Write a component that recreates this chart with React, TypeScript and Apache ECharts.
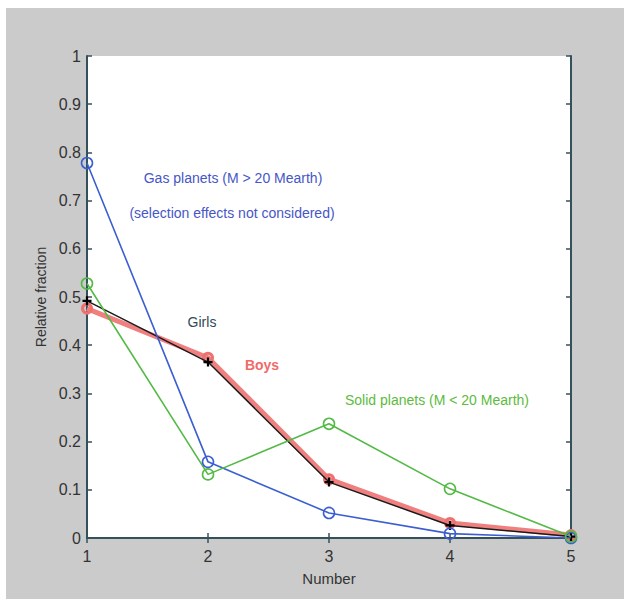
import React, { useEffect, useRef } from "react";
import * as echarts from "echarts";

const numbers = [1, 2, 3, 4, 5];
const gasPlanets = [0.778, 0.158, 0.052, 0.009, 0.0];
const solidPlanets = [0.528, 0.132, 0.237, 0.102, 0.003];
const boys = [0.476, 0.374, 0.122, 0.031, 0.006];
const girls = [0.492, 0.365, 0.116, 0.026, 0.003];

const FONT = "'Liberation Sans Narrow', 'Liberation Sans', Arial, sans-serif";
const AXIS = "#34505a";

function pairs(v: number[]) {
  return numbers.map((n, i) => [n, v[i]]);
}

export default function App() {
  const ref = useRef<HTMLDivElement>(null);
  useEffect(() => {
    if (!ref.current) return;
    const chart = echarts.init(ref.current, undefined, { renderer: "svg" });
    const axisLine = { show: true, lineStyle: { color: AXIS, width: 2 } };
    const tick = { show: true, inside: true, length: 5, lineStyle: { color: AXIS, width: 1.5 } };
    chart.setOption({
      animation: false,
      backgroundColor: "#cbcbcb",
      grid: { left: 81, right: 53, top: 48, bottom: 61, show: true, backgroundColor: "#ffffff", borderWidth: 0 },
      xAxis: [
        {
          type: "value", min: 1, max: 5, interval: 1, position: "bottom",
          name: "Number", nameLocation: "middle", nameGap: 33,
          nameTextStyle: { fontFamily: FONT, fontSize: 15, color: "#333" },
          axisLine, axisTick: tick, splitLine: { show: false },
          axisLabel: { fontFamily: FONT, fontSize: 16, color: "#333", margin: 10 },
        },
        {
          type: "value", min: 1, max: 5, interval: 1, position: "top",
          axisLine, axisTick: tick, splitLine: { show: false }, axisLabel: { show: false },
        },
      ],
      yAxis: [
        {
          type: "value", min: 0, max: 1, interval: 0.1, position: "left",
          name: "Relative fraction", nameLocation: "middle", nameGap: 38, nameRotate: 90,
          nameTextStyle: { fontFamily: FONT, fontSize: 14, color: "#333" },
          axisLine, axisTick: tick, splitLine: { show: false },
          axisLabel: {
            fontFamily: FONT, fontSize: 16, color: "#333", margin: 6,
            formatter: (v: number) => String(Math.round(v * 10) / 10),
          },
        },
        {
          type: "value", min: 0, max: 1, interval: 0.1, position: "right",
          axisLine, axisTick: tick, splitLine: { show: false }, axisLabel: { show: false },
        },
      ],
      series: [
        {
          name: "Boys", type: "line", data: pairs(boys),
          lineStyle: { color: "#f08080", width: 5 },
          symbol: "circle", symbolSize: 9,
          itemStyle: { color: "rgba(0,0,0,0)", borderColor: "#f07070", borderWidth: 3 },
          z: 2,
        },
        {
          name: "Girls", type: "line", data: pairs(girls),
          lineStyle: { color: "#1a1a1a", width: 1.5 },
          symbol: "path://M-1,-4H1V-1H4V1H1V4H-1V1H-4V-1H-1Z", symbolSize: 9,
          itemStyle: { color: "#000000" },
          z: 3,
        },
        {
          name: "Gas", type: "line", data: pairs(gasPlanets),
          lineStyle: { color: "#3b5fd0", width: 1.6 },
          symbol: "circle", symbolSize: 11,
          itemStyle: { color: "rgba(0,0,0,0)", borderColor: "#3b5fd0", borderWidth: 1.6 },
          z: 4,
        },
        {
          name: "Solid", type: "line", data: pairs(solidPlanets),
          lineStyle: { color: "#52ba45", width: 1.6 },
          symbol: "circle", symbolSize: 11,
          itemStyle: { color: "rgba(0,0,0,0)", borderColor: "#52ba45", borderWidth: 1.6 },
          z: 4,
        },
      ],
      graphic: [
        { type: "text", x: 227, y: 170, style: { text: "Gas planets (M > 20 Mearth)", fill: "#4656c6", font: `14px ${FONT}`, textAlign: "center", textVerticalAlign: "middle" } },
        { type: "text", x: 226, y: 205, style: { text: "(selection effects not considered)", fill: "#4656c6", font: `14px ${FONT}`, textAlign: "center", textVerticalAlign: "middle" } },
        { type: "text", x: 196, y: 314, style: { text: "Girls", fill: "#2f4a55", font: `14px ${FONT}`, textAlign: "center", textVerticalAlign: "middle" } },
        { type: "text", x: 256, y: 357, style: { text: "Boys", fill: "#f06a6a", font: `bold 14px ${FONT}`, textAlign: "center", textVerticalAlign: "middle" } },
        { type: "text", x: 431, y: 392, style: { text: "Solid planets (M < 20 Mearth)", fill: "#5cbb3e", font: `14px ${FONT}`, textAlign: "center", textVerticalAlign: "middle" } },
      ],
    });
    return () => chart.dispose();
  }, []);
  return (
    <div
      ref={ref}
      style={{ position: "absolute", left: 6, top: 8, width: 618, height: 591 }}
    />
  );
}
